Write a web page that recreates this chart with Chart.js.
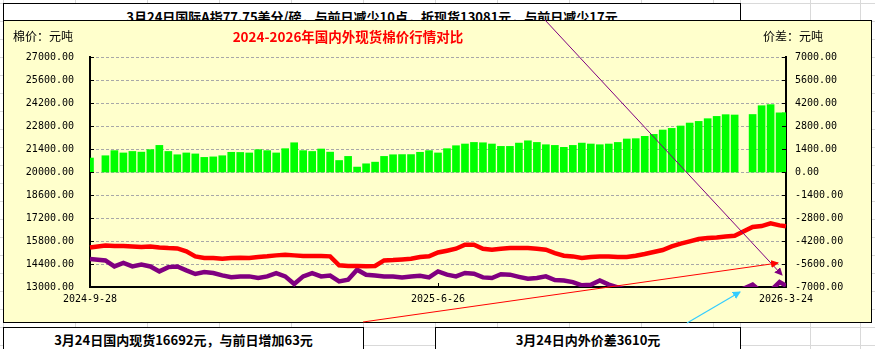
<!DOCTYPE html>
<html>
<head>
<meta charset="utf-8">
<script src="https://cdn.jsdelivr.net/npm/chart.js@4.4.1/dist/chart.umd.min.js"></script>
<style>
  body { margin:0; width:875px; height:349px; overflow:hidden; background:#fff; position:relative;
         font-family:"Noto Sans CJK SC", sans-serif; }
  .vl { position:absolute; top:0; width:1px; height:349px; background:#d9d9d9; }
  .hl { position:absolute; left:0; height:1px; width:875px; background:#d9d9d9; }
  .box { position:absolute; background:#fff; border:1px solid #000; box-sizing:border-box;
         font-weight:bold; font-size:13px; text-align:center; color:#000; white-space:nowrap; }
  #chartBox { position:absolute; left:3px; top:20px; width:869px; height:303px; box-sizing:border-box;
              border:1px solid #000; background:#ffffcc; }
  #chartBox canvas { position:absolute; left:0; top:0; }
  .lab { position:absolute; font-size:12px; line-height:16px; color:#000; white-space:nowrap; }
  #title { position:absolute; left:0; width:688px; text-align:center; top:7px; font-size:13.5px; line-height:16px;
           font-weight:bold; color:#ff0000; white-space:nowrap; }
  svg { position:absolute; left:0; top:0; }
</style>
</head>
<body>
<div id="grid"></div>

<div class="box" style="left:3px;top:3px;width:738px;height:30px;line-height:25px;">3月24日国际A指77.75美分/磅，与前日减少10点，折现货13081元，与前日减少17元</div>

<div id="chartBox">
  <canvas id="myChart" width="867" height="301"></canvas>
  <div class="lab" style="left:9px;top:7px;">棉价：元吨</div>
  <div id="title">2024-2026年国内外现货棉价行情对比</div>
  <div class="lab" style="left:759px;top:7px;">价差：元吨</div>
</div>

<div class="box" style="left:3px;top:327px;width:361px;height:30px;line-height:24px;">3月24日国内现货16692元，与前日增加63元</div>
<div class="box" style="left:435px;top:327px;width:306px;height:30px;line-height:24px;">3月24日内外价差3610元</div>

<svg width="875" height="349">
  <defs>
    <marker id="mP" markerWidth="8" markerHeight="8" refX="7" refY="4" orient="auto" markerUnits="userSpaceOnUse">
      <path d="M0,0 L8,4 L0,8 z" fill="#800080"/></marker>
    <marker id="mR" markerWidth="8" markerHeight="8" refX="7" refY="4" orient="auto" markerUnits="userSpaceOnUse">
      <path d="M0,0 L8,4 L0,8 z" fill="#ff0000"/></marker>
    <marker id="mC" markerWidth="8" markerHeight="8" refX="7" refY="4" orient="auto" markerUnits="userSpaceOnUse">
      <path d="M0,0 L8,4 L0,8 z" fill="#33ccff"/></marker>
  </defs>
  <line x1="545" y1="20" x2="782" y2="275" stroke="#800080" stroke-width="1" marker-end="url(#mP)"/>
  <line x1="363" y1="322" x2="778" y2="263" stroke="#ff0000" stroke-width="1" marker-end="url(#mR)"/>
  <line x1="687" y1="323" x2="740" y2="292" stroke="#33ccff" stroke-width="1.2" marker-end="url(#mC)"/>
</svg>

<script>
// 每周取样（周四），最后一点为3月24日
const dates = [
  '2024-09-28','2024-10-10','2024-10-17','2024-10-24','2024-10-31',
  '2024-11-07','2024-11-14','2024-11-21','2024-11-28',
  '2024-12-05','2024-12-12','2024-12-19','2024-12-26',
  '2025-01-02','2025-01-09','2025-01-16','2025-01-23','2025-01-30',
  '2025-02-06','2025-02-13','2025-02-20','2025-02-27',
  '2025-03-06','2025-03-13','2025-03-20','2025-03-27',
  '2025-04-03','2025-04-10','2025-04-17','2025-04-24',
  '2025-05-01','2025-05-08','2025-05-15','2025-05-22','2025-05-29',
  '2025-06-05','2025-06-12','2025-06-19','2025-06-26',
  '2025-07-03','2025-07-10','2025-07-17','2025-07-24','2025-07-31',
  '2025-08-07','2025-08-14','2025-08-21','2025-08-28',
  '2025-09-04','2025-09-11','2025-09-18','2025-09-25',
  '2025-10-02','2025-10-09','2025-10-16','2025-10-23','2025-10-30',
  '2025-11-06','2025-11-13','2025-11-20','2025-11-27',
  '2025-12-04','2025-12-11','2025-12-18','2025-12-25',
  '2026-01-01','2026-01-08','2026-01-15','2026-01-22','2026-01-29',
  '2026-02-05','2026-02-12','2026-02-26',
  '2026-03-05','2026-03-12','2026-03-19','2026-03-24'
];

// 国内现货（元/吨）
const domesticPrice = [
  15410, 15530, 15500, 15490, 15470,
  15430, 15470, 15410, 15370,
  15350, 15170, 14860, 14765,
  14765, 14720, 14760, 14780, 14765,
  14820, 14865, 14925, 14966,
  14925, 14887, 14887, 14887,
  14865, 14318, 14278, 14278,
  14257, 14278, 14619, 14640, 14680,
  14720, 14826, 14865, 15100,
  15210, 15330, 15574, 15574, 15330,
  15270, 15330, 15374, 15374,
  15374, 15330, 15270, 15067,
  14905, 14863, 14765, 14826, 14863,
  14863, 14826, 14826, 14905,
  15009, 15130, 15250, 15470,
  15640, 15780, 15920, 15980, 16020,
  16080, 16120, 16650,
  16710, 16870, 16750, 16692
];

// 国际A指折现货（元/吨）
const intlPrice = [
  14700, 14620, 14250, 14460, 14250,
  14360, 14250, 13950, 14210,
  14250, 14010, 13790, 13910,
  13850, 13710, 13590, 13645, 13645,
  13550, 13645, 13850, 13645,
  13180, 13645, 13850, 13645,
  13700, 13340, 13440, 14053,
  13750, 13700, 13645, 13645, 13585,
  13645, 13688, 13585, 13950,
  13750, 13645, 13852, 13810, 13585,
  13548, 13780, 13750, 13620,
  13500, 13548, 13645, 13426,
  13390, 13300, 13100, 13140, 13400,
  13150, 12980, 12820, 12875,
  12840, 12840, 12695, 12815,
  12840, 12800, 12840, 12735, 12635,
  12590, 12650, 13150,
  12680, 12770, 13300, 13081
];

// 内外价差（元/吨）
const priceGap = [
  850, 990, 1300, 1160, 1250,
  1210, 1360, 1620, 1250,
  1050, 1160, 1100, 890,
  920, 990, 1200, 1190, 1160,
  1360, 1300, 1160, 1420,
  1780, 1300, 1250, 1400,
  1210, 700, 950, 300,
  500, 600, 950, 1050, 1060,
  1060, 1200, 1300, 1160,
  1420, 1600, 1704, 1800, 1780,
  1704, 1560, 1560, 1760,
  1900, 1800, 1660, 1620,
  1500, 1620, 1760, 1704, 1660,
  1704, 1800, 2010, 2030,
  2170, 2290, 2555, 2655,
  2800, 2980, 3080, 3245, 3385,
  3490, 3470, 3500,
  4035, 4100, 3600, 3610
];

const xTickLabels = ['2024-9-28', '2025-6-26', '2026-3-24'];

function toDay(s) {
  const p = s.split('-').map(Number);
  return Date.UTC(p[0], p[1] - 1, p[2]) / 864e5;
}
const day0 = toDay(dates[0]);
const xs = dates.map(d => toDay(d) - day0);
const xTicks = xTickLabels.map(d => toDay(d) - day0);

// 表格网格线
const colLines = [3, 75, 147, 219, 291, 363, 435, 497, 569, 641, 713, 740, 810, 860];
const rowLines = [3, 21, 39, 57, 75, 93, 111, 129, 147, 165, 183, 201, 219, 237, 255, 273, 291, 309, 327, 345];
const grid = document.getElementById('grid');
colLines.forEach(x => { const d = document.createElement('div'); d.className = 'vl'; d.style.left = x + 'px'; grid.appendChild(d); });
rowLines.forEach(y => { const d = document.createElement('div'); d.className = 'hl'; d.style.top = y + 'px'; grid.appendChild(d); });

const tickFont = { family: '"DejaVu Sans Mono", monospace', size: 10 };

// 坐标轴内侧刻度线
const innerTicks = {
  id: 'innerTicks',
  afterDraw(chart) {
    const { ctx, chartArea: a, scales } = chart;
    ctx.save();
    ctx.strokeStyle = '#000';
    ctx.lineWidth = 1;
    ctx.beginPath();
    scales.y.ticks.forEach(t => {
      const y = Math.round(scales.y.getPixelForValue(t.value)) + 0.5;
      ctx.moveTo(a.left, y); ctx.lineTo(a.left + 4, y);
    });
    scales.y1.ticks.forEach(t => {
      const y = Math.round(scales.y1.getPixelForValue(t.value)) + 0.5;
      ctx.moveTo(a.right - 4, y); ctx.lineTo(a.right, y);
    });
    scales.x.ticks.forEach(t => {
      const x = Math.round(scales.x.getPixelForValue(t.value)) + 0.5;
      ctx.moveTo(x, a.bottom); ctx.lineTo(x, a.bottom - 4);
    });
    ctx.stroke();
    ctx.restore();
  }
};

window.addEventListener('load', function () {
  const ctx = document.getElementById('myChart').getContext('2d');
  new Chart(ctx, {
    type: 'bar',
    data: {
      datasets: [{
        type: 'line',
        label: '国内现货',
        data: xs.map((x, i) => ({ x: x, y: domesticPrice[i] })),
        borderColor: '#ff0000',
        borderWidth: 4.5,
        pointRadius: 0,
        tension: 0,
        yAxisID: 'y',
        order: 1,
        clip: { left: 3, right: 3, top: 0, bottom: 0 }
      }, {
        type: 'line',
        label: '国际折现货',
        data: xs.map((x, i) => ({ x: x, y: intlPrice[i] })),
        borderColor: '#800080',
        borderWidth: 4.5,
        pointRadius: 0,
        tension: 0,
        yAxisID: 'y',
        order: 2,
        clip: { left: 3, right: 3, top: 0, bottom: 0 }
      }, {
        type: 'bar',
        label: '内外价差',
        data: xs.map((x, i) => ({ x: x, y: priceGap[i] })),
        backgroundColor: '#00ff00',
        borderWidth: 0,
        barThickness: 7,
        yAxisID: 'y1',
        order: 3
      }]
    },
    options: {
      responsive: false,
      animation: false,
      events: [],
      layout: { padding: { top: 36, left: 0, right: 0, bottom: 0 } },
      plugins: { legend: { display: false }, tooltip: { enabled: false } },
      scales: {
        x: {
          type: 'linear',
          min: 0,
          max: xs[xs.length - 1],
          offset: false,
          afterBuildTicks: s => { s.ticks = xTicks.map(v => ({ value: v })); },
          afterFit: s => { s.height = 35; },
          ticks: {
            callback: (v, i) => xTickLabels[i],
            font: tickFont, color: '#000', padding: 6, maxRotation: 0, autoSkip: false
          },
          grid: { display: false, drawTicks: false },
          border: { display: true, color: '#000', width: 2 }
        },
        y: {
          position: 'left',
          min: 13000, max: 27000,
          afterFit: s => { s.width = 86; },
          ticks: { stepSize: 1400, callback: v => v.toFixed(2), font: tickFont, color: '#000', padding: 16 },
          grid: { color: '#a8a8a8', lineWidth: 1, drawTicks: false },
          border: { display: true, color: '#000', width: 2, dash: [3, 2] }
        },
        y1: {
          position: 'right',
          min: -7000, max: 7000,
          afterFit: s => { s.width = 85; },
          ticks: { stepSize: 1400, callback: v => v.toFixed(2), font: tickFont, color: '#000', padding: 9 },
          grid: { display: false, drawTicks: false },
          border: { display: true, color: '#000', width: 2 }
        }
      }
    },
    plugins: [innerTicks]
  });
});
</script>
</body>
</html>
